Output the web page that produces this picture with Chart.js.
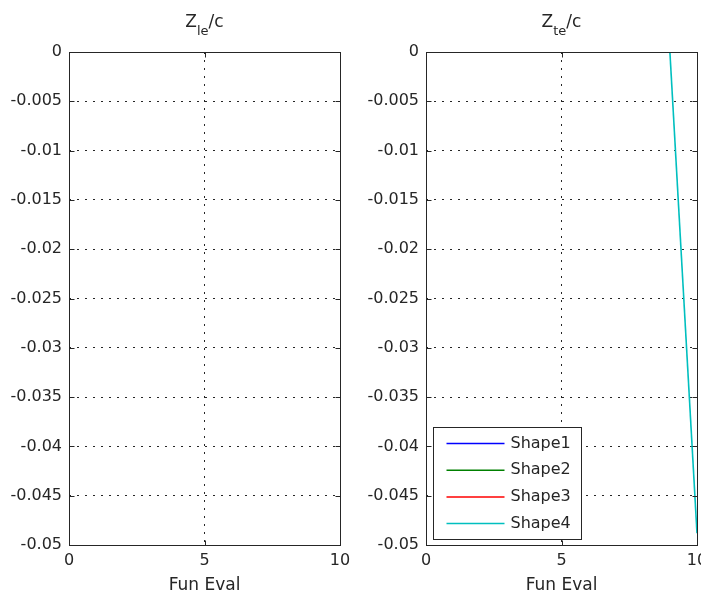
<!DOCTYPE html>
<html>
<head>
<meta charset="utf-8">
<script src="https://cdn.jsdelivr.net/npm/chart.js@4"></script>
<style>
  html, body { margin: 0; padding: 0; background: #fff; }
  body { width: 701px; height: 596px; overflow: hidden; position: relative; }
  canvas { position: absolute; top: 0; }
  #leChart { left: 0; }
  #teChart { left: 357px; }
</style>
</head>
<body>
<canvas id="leChart" width="360" height="596"></canvas>
<canvas id="teChart" width="360" height="596"></canvas>
<script>
// axis ticks
const xTicks = [0, 5, 10];
const xTickLabels = ['0', '5', '10'];
const yTicks = [0, -0.005, -0.01, -0.015, -0.02, -0.025, -0.03, -0.035, -0.04, -0.045, -0.05];
const yTickLabels = ['0', '-0.005', '-0.01', '-0.015', '-0.02', '-0.025', '-0.03', '-0.035', '-0.04', '-0.045', '-0.05'];

// series
const shapeNames = ['Shape1', 'Shape2', 'Shape3', 'Shape4'];
const shapeColors = ['#0000ff', '#008000', '#ff0000', '#00bfbf'];

// leading edge: nothing lands inside the axes
const leEval = [];
const leShape1 = [];
const leShape2 = [];
const leShape3 = [];
const leShape4 = [];

// trailing edge
const teEval = [9, 10];
const teShape1 = [];
const teShape2 = [];
const teShape3 = [];
const teShape4 = [0, -0.0488];

const INK = '#262626';
Chart.defaults.font.family = '"DejaVu Sans", sans-serif';
Chart.defaults.font.size = 16;
Chart.defaults.color = INK;

function toPoints(xs, ys) {
  return ys.map((y, i) => ({ x: xs[i], y: y }));
}

function makeDatasets(xs, series) {
  return series.map((ys, i) => ({
    label: shapeNames[i],
    data: toPoints(xs, ys),
    borderColor: shapeColors[i],
    backgroundColor: shapeColors[i],
    borderWidth: 1.6,
    pointRadius: 0,
    tension: 0
  }));
}

// box around the axes, inward ticks, tex-like title and boxed legend
const matlabAxes = {
  id: 'matlabAxes',
  afterDraw(chart, args, opts) {
    const ctx = chart.ctx;
    const a = chart.chartArea;
    // same half-pixel alignment Chart.js uses for its grid lines
    const L = Math.round(a.left) + 0.5, R = Math.round(a.right) + 0.5;
    const T = Math.round(a.top) + 0.5, B = Math.round(a.bottom) + 0.5;
    const tl = 5;
    ctx.save();
    ctx.strokeStyle = INK;
    ctx.lineWidth = 1;
    ctx.strokeRect(L, T, R - L, B - T);
    ctx.beginPath();
    chart.scales.x.ticks.forEach(t => {
      const px = Math.round(chart.scales.x.getPixelForValue(t.value)) + 0.5;
      ctx.moveTo(px, T); ctx.lineTo(px, T + tl);
      ctx.moveTo(px, B); ctx.lineTo(px, B - tl);
    });
    chart.scales.y.ticks.forEach(t => {
      const py = Math.round(chart.scales.y.getPixelForValue(t.value)) + 0.5;
      ctx.moveTo(L, py); ctx.lineTo(L + tl, py);
      ctx.moveTo(R, py); ctx.lineTo(R - tl, py);
    });
    ctx.stroke();

    // title: base, subscript, rest
    const cx = (a.left + a.right) / 2;
    const baseY = 27;
    const big = '17px "DejaVu Sans"', small = '13px "DejaVu Sans"';
    ctx.fillStyle = INK;
    ctx.textBaseline = 'alphabetic';
    ctx.textAlign = 'left';
    ctx.font = big;
    const w1 = ctx.measureText(opts.base).width;
    const w3 = ctx.measureText(opts.rest).width;
    ctx.font = small;
    const w2 = ctx.measureText(opts.sub).width;
    let x = cx - (w1 + w2 + w3) / 2;
    ctx.font = big;
    ctx.fillText(opts.base, x, baseY);
    x += w1;
    ctx.font = small;
    ctx.fillText(opts.sub, x, baseY + 8);
    x += w2;
    ctx.font = big;
    ctx.fillText(opts.rest, x, baseY);

    if (opts.legend) {
      const bw = 148, bh = 112;
      const bx = Math.round(a.left) + 7.5, by = Math.round(a.bottom) - 5.5 - bh;
      ctx.fillStyle = '#fff';
      ctx.fillRect(bx, by, bw, bh);
      ctx.strokeStyle = INK;
      ctx.lineWidth = 1;
      ctx.strokeRect(bx, by, bw, bh);
      ctx.font = '16px "DejaVu Sans"';
      ctx.textBaseline = 'middle';
      chart.data.datasets.forEach((ds, i) => {
        const ry = by + 16 + i * 26.7;
        ctx.strokeStyle = ds.borderColor;
        ctx.lineWidth = 1.5;
        ctx.beginPath();
        ctx.moveTo(bx + 13, ry);
        ctx.lineTo(bx + 71, ry);
        ctx.stroke();
        ctx.fillStyle = INK;
        ctx.fillText(ds.label, bx + 77, ry);
      });
    }
    ctx.restore();
  }
};

function makeChart(id, xs, series, titleParts, showLegend) {
  return new Chart(document.getElementById(id), {
    type: 'line',
    data: { datasets: makeDatasets(xs, series) },
    options: {
      responsive: false,
      animation: false,
      devicePixelRatio: 1,
      layout: { padding: { top: 52, right: 20, bottom: 0, left: 0 } },
      plugins: {
        legend: { display: false },
        tooltip: { enabled: false },
        matlabAxes: Object.assign({ legend: showLegend }, titleParts)
      },
      scales: {
        x: {
          type: 'linear',
          min: 0,
          max: 10,
          afterBuildTicks: s => { s.ticks = xTicks.map(v => ({ value: v })); },
          afterFit: s => { s.height = 51; },
          ticks: {
            padding: 6,
            maxRotation: 0,
            callback: v => xTickLabels[xTicks.indexOf(v)]
          },
          grid: { color: INK, lineWidth: 1, drawTicks: false },
          border: { display: false, dash: [2, 6] },
          title: { display: true, text: 'Fun Eval', font: { size: 17 }, padding: 0 }
        },
        y: {
          type: 'linear',
          min: -0.05,
          max: 0,
          afterBuildTicks: s => { s.ticks = yTicks.slice().reverse().map(v => ({ value: v })); },
          afterFit: s => { s.width = 69; },
          ticks: {
            padding: 7,
            callback: v => yTickLabels[yTicks.indexOf(v)]
          },
          grid: { color: INK, lineWidth: 1, drawTicks: false },
          border: { display: false, dash: [2, 6] }
        }
      }
    },
    plugins: [matlabAxes]
  });
}

makeChart('leChart', leEval, [leShape1, leShape2, leShape3, leShape4],
  { base: 'Z', sub: 'le', rest: '/c' }, false);
makeChart('teChart', teEval, [teShape1, teShape2, teShape3, teShape4],
  { base: 'Z', sub: 'te', rest: '/c' }, true);
</script>
</body>
</html>
